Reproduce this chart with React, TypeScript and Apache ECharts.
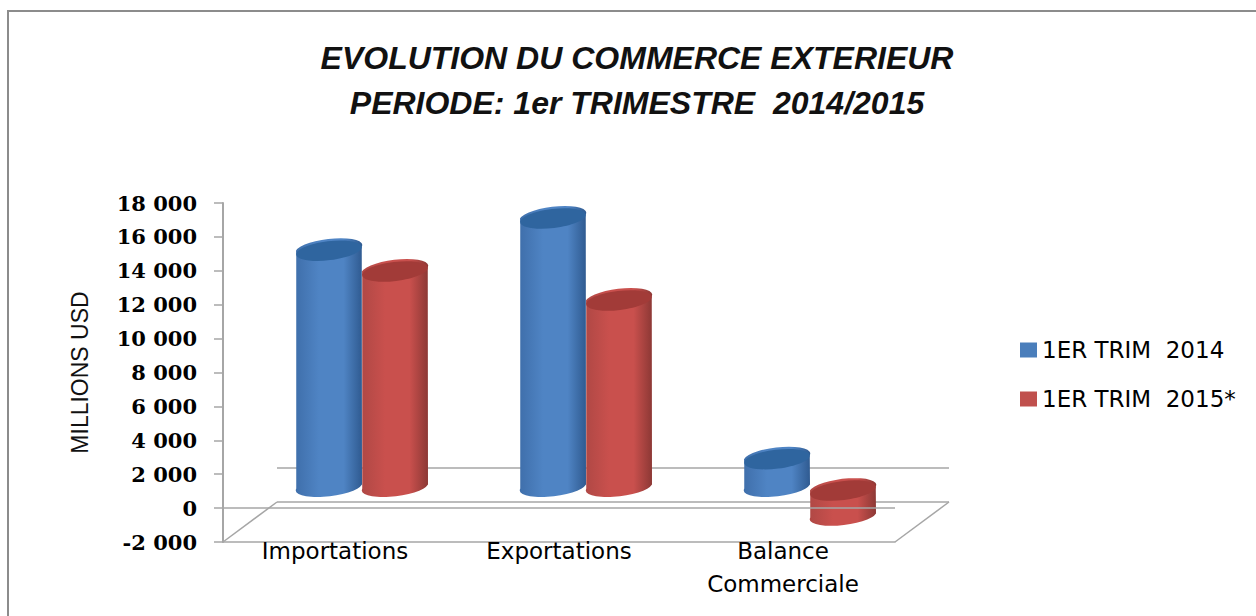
import React, { useEffect, useRef } from "react";
import * as echarts from "echarts";

const categories = ["Importations", "Exportations", "Balance\nCommerciale"];
const seriesNames = ["1ER TRIM  2014", "1ER TRIM  2015*"];
const values2014 = [13800, 15700, 1500];
const values2015 = [12570, 10860, -1700];
const yMin = -2000;
const yMax = 18000;
const yStep = 2000;

const DEPTH_X = 54;
const DEPTH_Y = -40;
const BAR_LIFT = -23.5;
const NEG_CAP_DROP = 6;
const BAR_W = 66;
const RX = 33;
const RY = 9.5;
const TILT = -7;

function cylinder(x: number, yTop: number, yBot: number, colors: { light: string; mid: string; dark: string; cap: string }) {
  const a = (TILT * Math.PI) / 180;
  const ex = RX * Math.cos(a);
  const ey = RX * Math.sin(a);
  const body =
    `M ${x - ex} ${yTop - ey} L ${x - ex} ${yBot - ey} ` +
    `A ${RX} ${RY} ${TILT} 0 0 ${x + ex} ${yBot + ey} ` +
    `L ${x + ex} ${yTop + ey} ` +
    `A ${RX} ${RY} ${TILT} 0 0 ${x - ex} ${yTop - ey} Z`;
  return [
    {
      type: "path",
      shape: { pathData: body },
      style: {
        fill: new echarts.graphic.LinearGradient(0, 0, 1, 0, [
          { offset: 0, color: colors.mid },
          { offset: 0.35, color: colors.light },
          { offset: 0.72, color: colors.light },
          { offset: 1, color: colors.dark },
        ]),
      },
    },
    {
      type: "ellipse",
      shape: { cx: 0, cy: 0, rx: RX, ry: RY },
      x,
      y: yTop,
      rotation: (-TILT * Math.PI) / 180,
      style: { fill: colors.cap },
    },
  ];
}

const blue = { light: "#4f84c4", mid: "#3f6fab", dark: "#2f5a90", cap: "#2f659f" };
const red = { light: "#c9504d", mid: "#b04845", dark: "#8c3835", cap: "#a23b38" };

function cylinderSeries(name: string, values: number[], sign: number, colors: typeof blue, swatch: string) {
  return {
    type: "custom",
    name,
    z: 3,
    clip: false,
    itemStyle: { color: swatch },
    data: values.map((v, i) => [i, v]),
    encode: { x: 0, y: 1 },
    renderItem: (_p: any, api: any) => {
      const i = api.value(0);
      const v = api.value(1);
      const base = api.coord([i, 0]);
      const tip = api.coord([i, v]);
      const x = base[0] + DEPTH_X / 2 + sign * (BAR_W / 2);
      const top = Math.min(base[1], tip[1]) + BAR_LIFT + (v < 0 ? NEG_CAP_DROP : 0);
      const bot = Math.max(base[1], tip[1]) + BAR_LIFT;
      return { type: "group", children: cylinder(x, top, bot, colors) };
    },
  };
}

function lineEl(x1: number, y1: number, x2: number, y2: number, stroke = "#a6a6a6") {
  return { type: "line", shape: { x1, y1, x2, y2 }, style: { stroke, lineWidth: 1.5 } };
}

export default function App() {
  const ref = useRef<HTMLDivElement>(null);
  useEffect(() => {
    document.body.style.margin = "0";
    const chart = echarts.init(ref.current!, undefined, { renderer: "svg" });
    chart.setOption({
      animation: false,
      backgroundColor: "#ffffff",
      title: {
        text: "EVOLUTION DU COMMERCE EXTERIEUR\nPERIODE: 1er TRIMESTRE  2014/2015",
        left: 632,
        top: 30,
        textAlign: "center",
        textStyle: {
          fontFamily: "Liberation Sans",
          fontStyle: "italic",
          fontWeight: "bold",
          fontSize: 32,
          lineHeight: 45,
          color: "#111111",
        },
      },
      legend: {
        left: 1015,
        top: 333,
        orient: "vertical",
        itemWidth: 17,
        itemHeight: 15,
        itemGap: 25,
        icon: "rect",
        data: seriesNames,
        textStyle: { fontFamily: "DejaVu Sans", fontSize: 23, lineHeight: 24, color: "#000000" },
      },
      grid: { left: 223, top: 203, width: 672, height: 339 },
      xAxis: {
        type: "category",
        data: categories,
        axisLine: { onZero: false, lineStyle: { color: "#a6a6a6", width: 1.5 } },
        axisTick: { show: false },
        axisLabel: {
          margin: -8,
          lineHeight: 33,
          fontFamily: "DejaVu Sans",
          fontSize: 23,
          color: "#000000",
        },
      },
      yAxis: {
        type: "value",
        min: yMin,
        max: yMax,
        interval: yStep,
        name: "MILLIONS USD",
        nameLocation: "middle",
        nameGap: 132,
        nameRotate: 90,
        nameTextStyle: { fontFamily: "Liberation Sans", fontSize: 23, color: "#111111" },
        axisLine: { show: true, lineStyle: { color: "#a6a6a6", width: 2 } },
        axisTick: { show: true, length: 9, lineStyle: { color: "#a6a6a6", width: 1.5 } },
        splitLine: { show: false },
        axisLabel: {
          margin: 26,
          fontFamily: "DejaVu Serif",
          fontWeight: "bold",
          fontSize: 21,
          color: "#000000",
          formatter: (v: number) => {
            const s = String(Math.abs(v));
            const t = s.length > 3 ? s.slice(0, -3) + " " + s.slice(-3) : s;
            return v < 0 ? "-" + t : t;
          },
        },
      },
      series: [
        {
          type: "custom",
          silent: true,
          z: 1,
          clip: false,
          data: [[0, 0]],
          renderItem: (p: any, api: any) => {
            const cs = p.coordSys;
            const y0 = api.coord([0, 0])[1];
            const yLow = api.coord([0, yMin])[1];
            const l = cs.x;
            const r = cs.x + cs.width;
            return {
              type: "group",
              children: [
                lineEl(l + DEPTH_X, y0 + DEPTH_Y, r + DEPTH_X, y0 + DEPTH_Y),
                lineEl(l + DEPTH_X, yLow + DEPTH_Y, r + DEPTH_X, yLow + DEPTH_Y),
                lineEl(l, yLow, l + DEPTH_X, yLow + DEPTH_Y),
                lineEl(r, yLow, r + DEPTH_X, yLow + DEPTH_Y),
              ],
            };
          },
        },
        cylinderSeries(seriesNames[0], values2014, -1, blue, "#4a7ebb"),
        cylinderSeries(seriesNames[1], values2015, 1, red, "#c0504d"),
        {
          type: "custom",
          silent: true,
          z: 4,
          clip: false,
          data: [[0, 0]],
          renderItem: (p: any, api: any) => {
            const cs = p.coordSys;
            const y0 = api.coord([0, 0])[1];
            return lineEl(cs.x, y0, cs.x + cs.width, y0);
          },
        },
      ],
      graphic: [
        {
          type: "rect",
          shape: { x: 8, y: 11, width: 1300, height: 640 },
          style: { fill: "none", stroke: "#8c8c8c", lineWidth: 2 },
          z: 0,
          silent: true,
        },
      ],
    });
    return () => chart.dispose();
  }, []);
  return <div ref={ref} style={{ width: 1256, height: 616 }} />;
}
